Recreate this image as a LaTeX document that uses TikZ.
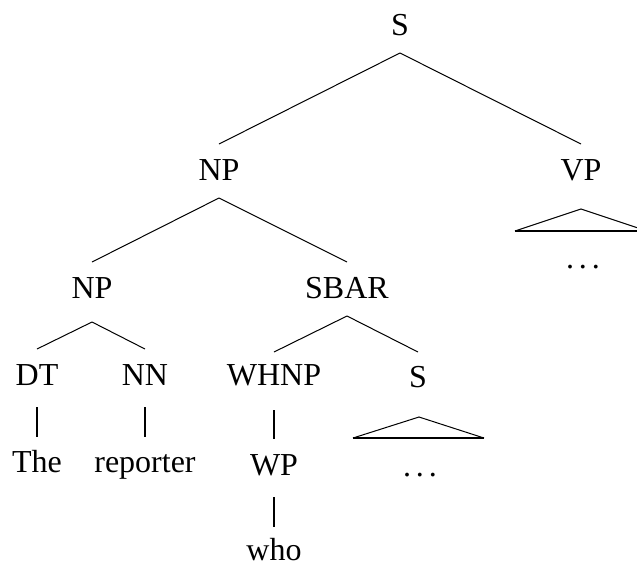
\documentclass[tikz,border=0pt]{standalone}
\usepackage{fontspec}
\setmainfont{Liberation Serif}
\begin{document}
\begin{tikzpicture}[x=1pt,y=-1pt,
  lab/.style={anchor=base,inner sep=0pt,font=\fontsize{32}{38}\selectfont},
  edge/.style={line width=1pt},
  unary/.style={line width=2pt},
  tribase/.style={line width=2.5pt},
  triside/.style={line width=1pt}]
\useasboundingbox (0,0) rectangle (637,566);
% nodes
\node[lab] (S)    at (400,35)  {S};
\node[lab] (NP)   at (219,180) {NP};
\node[lab] (VP)   at (581,180) {VP};
\node[lab] (NPb)  at (92,298)  {NP};
\node[lab] (SBAR) at (347,298) {SBAR};
\node[lab] (DT)   at (37,385)  {DT};
\node[lab] (NN)   at (145,385) {NN};
\node[lab] (WHNP) at (274,385) {WHNP};
\node[lab] (Sb)   at (418,387) {S};
\node[lab] (The)  at (37,472)  {The};
\node[lab] (rep)  at (145,472) {reporter};
\node[lab] (WP)   at (274,475) {WP};
\node[lab] (who)  at (274,560) {who};
\node[lab] (dotsVP) at (583,268) {.\hspace{5pt}.\hspace{5pt}.};
\node[lab] (dotsS)  at (420,476) {.\hspace{5pt}.\hspace{5pt}.};
% binary edges
\draw[edge] ([yshift=-18pt]S.base) -- ([yshift=36pt]NP.base);
\draw[edge] ([yshift=-18pt]S.base) -- ([yshift=36pt]VP.base);
\draw[edge] ([yshift=-18pt]NP.base) -- ([yshift=36pt]NPb.base);
\draw[edge] ([yshift=-18pt]NP.base) -- ([yshift=36pt]SBAR.base);
\draw[edge] ([yshift=-24pt]NPb.base) -- ([yshift=36pt]DT.base);
\draw[edge] ([yshift=-24pt]NPb.base) -- ([yshift=36pt]NN.base);
\draw[edge] ([yshift=-18pt]SBAR.base) -- ([yshift=33pt]WHNP.base);
\draw[edge] ([yshift=-18pt]SBAR.base) -- ([yshift=35pt]Sb.base);
% unary edges
\draw[unary] ([yshift=-22pt]DT.base) -- ([yshift=35pt]The.base);
\draw[unary] ([yshift=-22pt]NN.base) -- ([yshift=35pt]rep.base);
\draw[unary] ([yshift=-25pt]WHNP.base) -- ([yshift=36pt]WP.base);
\draw[unary] ([yshift=-22pt]WP.base) -- ([yshift=33pt]who.base);
% triangles
\coordinate (VPtop) at ([yshift=-29pt]VP.base);
\coordinate (VPl) at ([xshift=-66pt,yshift=-51pt]VP.base);
\coordinate (VPr) at ([xshift=66pt,yshift=-51pt]VP.base);
\draw[triside] (VPl) -- (VPtop) -- (VPr);
\draw[tribase] (VPl) -- (VPr);
\coordinate (Stop) at ([xshift=1pt,yshift=-30pt]Sb.base);
\coordinate (Sl) at ([xshift=-65pt,yshift=-51pt]Sb.base);
\coordinate (Sr) at ([xshift=66pt,yshift=-51pt]Sb.base);
\draw[triside] (Sl) -- (Stop) -- (Sr);
\draw[tribase] (Sl) -- (Sr);
\end{tikzpicture}
\end{document}
